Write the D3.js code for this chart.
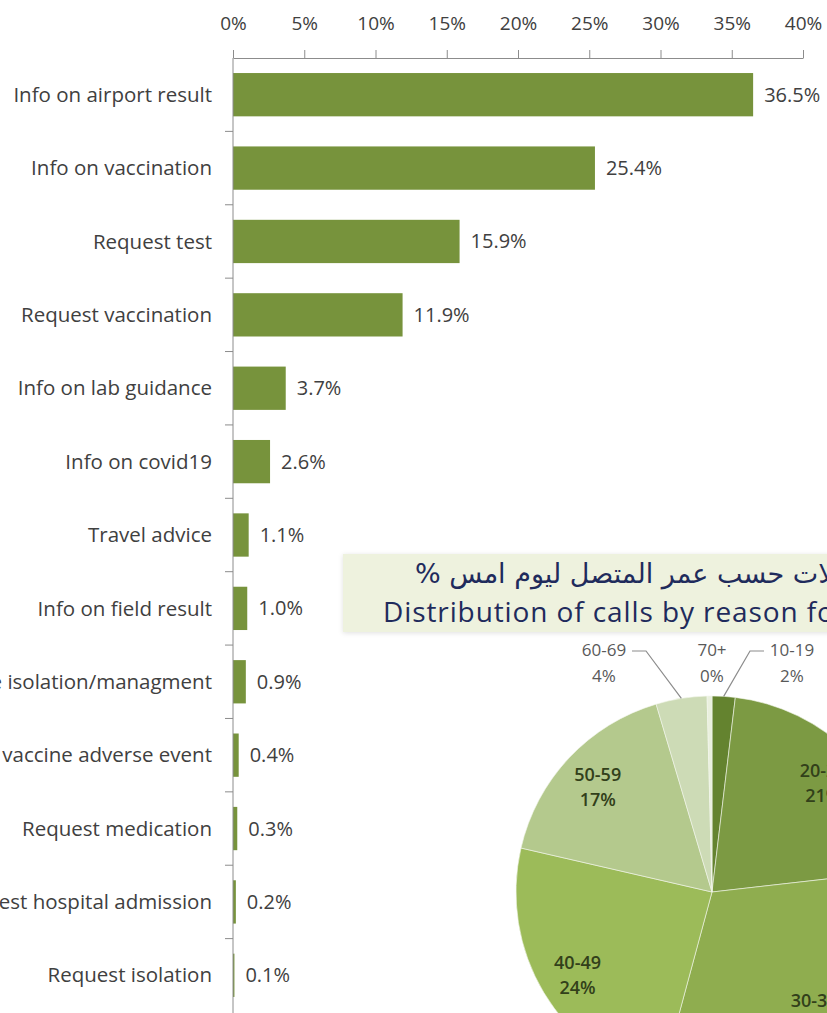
<!DOCTYPE html>
<html>
<head>
<meta charset="utf-8">
<script src="https://cdn.jsdelivr.net/npm/d3@7"></script>
<style>
  body { margin: 0; background: #fff; }
  svg { display: block; }
  text { font-family: "Open Sans", sans-serif; }
</style>
</head>
<body>
<svg width="827" height="1013"></svg>
<script>
// bar chart data
const reasons = [
  'Info on airport result', 'Info on vaccination', 'Request test',
  'Request vaccination', 'Info on lab guidance', 'Info on covid19',
  'Travel advice', 'Info on field result', 'Info on home isolation/managment',
  'Report vaccine adverse event', 'Request medication',
  'Request hospital admission', 'Request isolation'
]
const shares = [36.5, 25.4, 15.9, 11.9, 3.7, 2.6, 1.1, 1.0, 0.9, 0.4, 0.3, 0.2, 0.1]
const xTicks = [0, 5, 10, 15, 20, 25, 30, 35, 40]

// pie data (age of caller)
const ageGroups = ['10-19', '20-29', '30-39', '40-49', '50-59', '60-69', '70+']
const agePct = [1.9, 21.3, 31.0, 24.4, 16.8, 4.2, 0.4]
const ageLabels = ['2%', '21%', '31%', '24%', '17%', '4%', '0%']
const ageColors = ['#64832f', '#7c9a43', '#8fad4f', '#9cbb59', '#b4c98d', '#cddbb6', '#eaf0de']

const titleAr = 'توزيع الاتصالات حسب عمر المتصل ليوم امس %'
const titleEn = 'Distribution of calls by reason for calling'

const svg = d3.select('svg')
const width = 827
const height = 1013

// ---------- bar chart ----------
const x = d3.scaleLinear().domain([0, 40]).range([233, 803])
const y = d3.scaleBand().domain(reasons).range([58, 1012])
  .paddingInner(0.41).paddingOuter(0.205)

const xAxis = svg.append('g')
  .attr('transform', 'translate(0,58)')
  .call(d3.axisTop(x).tickValues(xTicks).tickFormat(d => d + '%')
    .tickSize(8).tickSizeOuter(0).tickPadding(20))
xAxis.select('.domain').attr('stroke', '#8c8c8c')
xAxis.selectAll('.tick line').attr('stroke', '#8c8c8c')
xAxis.selectAll('.tick text')
  .attr('fill', '#404040')
  .style('font-size', '19px')
  .style('font-family', '"Open Sans", sans-serif')

svg.append('g')
  .selectAll('rect')
  .data(shares)
  .enter()
  .append('rect')
  .attr('x', x(0))
  .attr('y', (d, i) => y(reasons[i]))
  .attr('width', d => x(d) - x(0))
  .attr('height', y.bandwidth())
  .attr('fill', '#77933c')

// category axis: vertical line with ticks between bands
const catAxis = svg.append('g')
catAxis.append('line')
  .attr('x1', x(0)).attr('x2', x(0))
  .attr('y1', 58).attr('y2', height)
  .attr('stroke', '#8c8c8c')
catAxis.selectAll('.sep')
  .data(reasons.slice(1))
  .enter()
  .append('line')
  .attr('x1', x(0) - 8).attr('x2', x(0))
  .attr('y1', d => y(d) - y.step() * y.paddingInner() / 2)
  .attr('y2', d => y(d) - y.step() * y.paddingInner() / 2)
  .attr('stroke', '#8c8c8c')

svg.append('g')
  .selectAll('text')
  .data(reasons)
  .enter()
  .append('text')
  .attr('x', 212)
  .attr('y', d => y(d) + y.bandwidth() / 2)
  .attr('dy', '0.35em')
  .attr('text-anchor', 'end')
  .attr('fill', '#404040')
  .style('font-size', '20.5px')
  .text(d => d)

svg.append('g')
  .selectAll('text')
  .data(shares)
  .enter()
  .append('text')
  .attr('x', d => x(d) + 11)
  .attr('y', (d, i) => y(reasons[i]) + y.bandwidth() / 2)
  .attr('dy', '0.35em')
  .attr('fill', '#404040')
  .style('font-size', '20px')
  .text(d => d.toFixed(1) + '%')

// ---------- title box ----------
const defs = svg.append('defs')
const shadow = defs.append('filter').attr('id', 'soft')
  .attr('x', '-10%').attr('y', '-20%').attr('width', '120%').attr('height', '150%')
shadow.append('feDropShadow')
  .attr('dx', 0).attr('dy', 1).attr('stdDeviation', 2.5)
  .attr('flood-color', '#000').attr('flood-opacity', 0.12)

svg.append('rect')
  .attr('x', 343).attr('y', 554)
  .attr('width', 520).attr('height', 78)
  .attr('fill', '#eef2de')
  .attr('filter', 'url(#soft)')

svg.append('text')
  .attr('x', 415).attr('y', 583)
  .attr('direction', 'rtl')
  .attr('text-anchor', 'end')
  .attr('fill', '#1f2b5c')
  .style('font-family', '"DejaVu Sans", sans-serif')
  .style('font-size', '27px')
  .text(titleAr)

svg.append('text')
  .attr('x', 383).attr('y', 622)
  .attr('fill', '#1f2b5c')
  .style('font-size', '28px')
  .style('letter-spacing', '0.9px')
  .text(titleEn)

// ---------- pie chart ----------
const cx = 712
const cy = 892
const R = 196

const pie = d3.pie().sort(null).value(d => d.v)
const arcs = pie(ageGroups.map((g, i) => ({ g, v: agePct[i], lab: ageLabels[i], c: ageColors[i] })))
const arc = d3.arc().innerRadius(0).outerRadius(R)
const labelArc = d3.arc().innerRadius(R * 0.8).outerRadius(R * 0.8)

const pieG = svg.append('g').attr('transform', `translate(${cx},${cy})`)
pieG.selectAll('path')
  .data(arcs)
  .enter()
  .append('path')
  .attr('d', arc)
  .attr('fill', d => d.data.c)
  .attr('stroke', '#f3f6ec')
  .attr('stroke-width', 0.6)

// large slices labelled inside, small ones outside above the pie
const inside = arcs.filter(d => d.data.v >= 10)
const outside = arcs.filter(d => d.data.v < 10)
const outsideShift = { '60-69': -108, '70+': 0, '10-19': 80 }

const inLab = pieG.selectAll('.inlab')
  .data(inside)
  .enter()
  .append('text')
  .attr('class', 'inlab')
  .attr('transform', d => `translate(${labelArc.centroid(d)})`)
  .attr('text-anchor', 'middle')
  .attr('fill', '#32401a')
  .style('font-size', '18px')
  .style('font-weight', 600)
inLab.append('tspan').attr('x', 0).attr('y', -4).text(d => d.data.g)
inLab.append('tspan').attr('x', 0).attr('y', 21).text(d => d.data.lab)

const labY = -R - 40
const outLab = pieG.selectAll('.outlab')
  .data(outside)
  .enter()
  .append('text')
  .attr('class', 'outlab')
  .attr('text-anchor', 'middle')
  .attr('fill', '#595959')
  .style('font-size', '17px')
outLab.append('tspan').attr('x', d => outsideShift[d.data.g]).attr('y', labY).text(d => d.data.g)
outLab.append('tspan').attr('x', d => outsideShift[d.data.g]).attr('y', labY + 26).text(d => d.data.lab)

// leader lines for the side labels
pieG.selectAll('.leader')
  .data(outside.filter(d => outsideShift[d.data.g] !== 0))
  .enter()
  .append('polyline')
  .attr('fill', 'none')
  .attr('stroke', '#8c8c8c')
  .attr('stroke-width', 1.2)
  .attr('points', d => {
    const a = (d.startAngle + d.endAngle) / 2
    const p = [R * Math.sin(a), -R * Math.cos(a)]
    const s = Math.sign(outsideShift[d.data.g])
    const endX = outsideShift[d.data.g] - s * 28
    const elbowX = endX - s * 14
    const ly = labY - 5
    return [p, [elbowX, ly], [endX, ly]].map(q => q.join(',')).join(' ')
  })
</script>
</body>
</html>
